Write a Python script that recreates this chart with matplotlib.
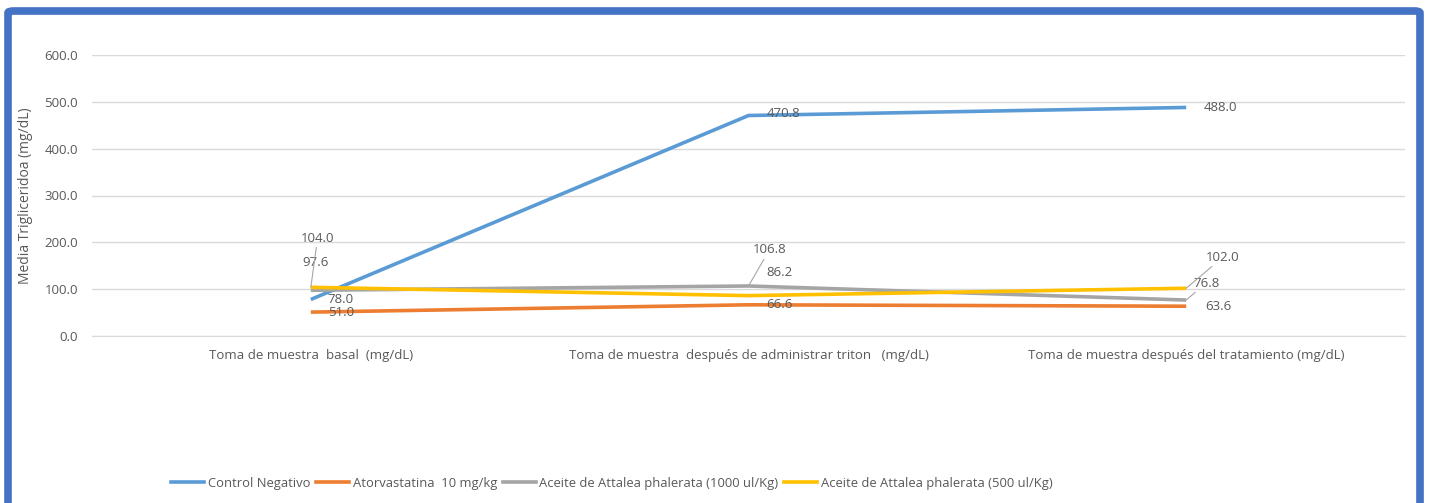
import matplotlib
matplotlib.use('Agg')
import matplotlib.pyplot as plt
from matplotlib.patches import FancyBboxPatch
from matplotlib.lines import Line2D

# Medias de triglicéridos por grupo y momento de muestreo
categorias = [
    'Toma de muestra  basal  (mg/dL)',
    'Toma de muestra  después de administrar triton   (mg/dL)',
    'Toma de muestra después del tratamiento (mg/dL)',
]
control_negativo = [78.0, 470.8, 488.0]
atorvastatina = [51.0, 66.6, 63.6]
aceite_1000 = [97.6, 106.8, 76.8]
aceite_500 = [104.0, 86.2, 102.0]

nombres = [
    'Control Negativo',
    'Atorvastatina  10 mg/kg',
    'Aceite de Attalea phalerata (1000 ul/Kg)',
    'Aceite de Attalea phalerata (500 ul/Kg)',
]
series = [control_negativo, atorvastatina, aceite_1000, aceite_500]
colores = ['#5B9BD5', '#ED7D31', '#A5A5A5', '#FFC000']

# desplazamiento (px) de cada etiqueta y si lleva línea guía
desplaz = [
    [(17, 0, False), (18, 2, False), (18, 0, False)],
    [(17, 0, False), (18, 0, False), (19, 0, False)],
    [(-8, 28, False), (4, 36, True), (7, 17, True)],
    [(-10, 49, True), (18, 23, False), (20, 31, True)],
]

plt.rcParams['font.family'] = ['Open Sans', 'DejaVu Sans']
TXT = '#595959'
GRID = '#D9D9D9'

fig = plt.figure(figsize=(14.29, 5.03), dpi=100)
W, H = 1429, 503

# marco azul redondeado
marco = FancyBboxPatch((8 / W, -0.05), 1412 / W, 1.05 - 11 / H,
                       boxstyle='round,pad=0,rounding_size=0.004',
                       transform=fig.transFigure, facecolor='none',
                       edgecolor='#4472C4', linewidth=5.5)
fig.patches.append(marco)

ax = fig.add_axes([92 / W, 1 - 336 / H, 1313 / W, 281 / H])
x = list(range(len(categorias)))

for vals, nombre, color, offs in zip(series, nombres, colores, desplaz):
    ax.plot(x, vals, color=color, linewidth=2.6, solid_capstyle='butt',
            label=nombre, zorder=3)
    for xi, v, (dx, dy, guia) in zip(x, vals, offs):
        props = None
        if guia:
            props = dict(arrowstyle='-', color='#A6A6A6', lw=0.8,
                         shrinkA=0, shrinkB=0)
        ax.annotate(f'{v:.1f}', xy=(xi, v), xytext=(dx, dy),
                    textcoords='offset pixels', ha='left', va='center',
                    fontsize=9.5, color=TXT, arrowprops=props, zorder=4)

ax.set_xlim(-0.5, 2.5)
ax.set_ylim(0, 600)
ax.set_yticks(range(0, 601, 100))
ax.set_yticklabels([f'{t:.1f}' for t in range(0, 601, 100)])
ax.set_xticks(x)
ax.set_xticklabels(categorias)
ax.tick_params(axis='both', length=0, labelsize=9.5, labelcolor=TXT)
ax.tick_params(axis='y', pad=10)
ax.tick_params(axis='x', pad=9)
ax.grid(axis='y', color=GRID, linewidth=1)
ax.set_axisbelow(True)
for lado in ['left', 'right', 'top']:
    ax.spines[lado].set_visible(False)
ax.spines['bottom'].set_color(GRID)
ax.set_ylabel('Media Trigliceridoa (mg/dL)', fontsize=10, color=TXT)
ax.yaxis.set_label_coords(-0.045, 0.5)

handles = [Line2D([], [], color=c, linewidth=2.6) for c in colores]
fig.legend(handles, nombres, loc='center', ncol=4,
           bbox_to_anchor=(612 / W, 1 - 483 / H), frameon=False,
           labelcolor=TXT, handlelength=2.5,
           handletextpad=0.3, columnspacing=0.45,
           prop={'size': 9.4})

fig.savefig('out.png', dpi=100)
